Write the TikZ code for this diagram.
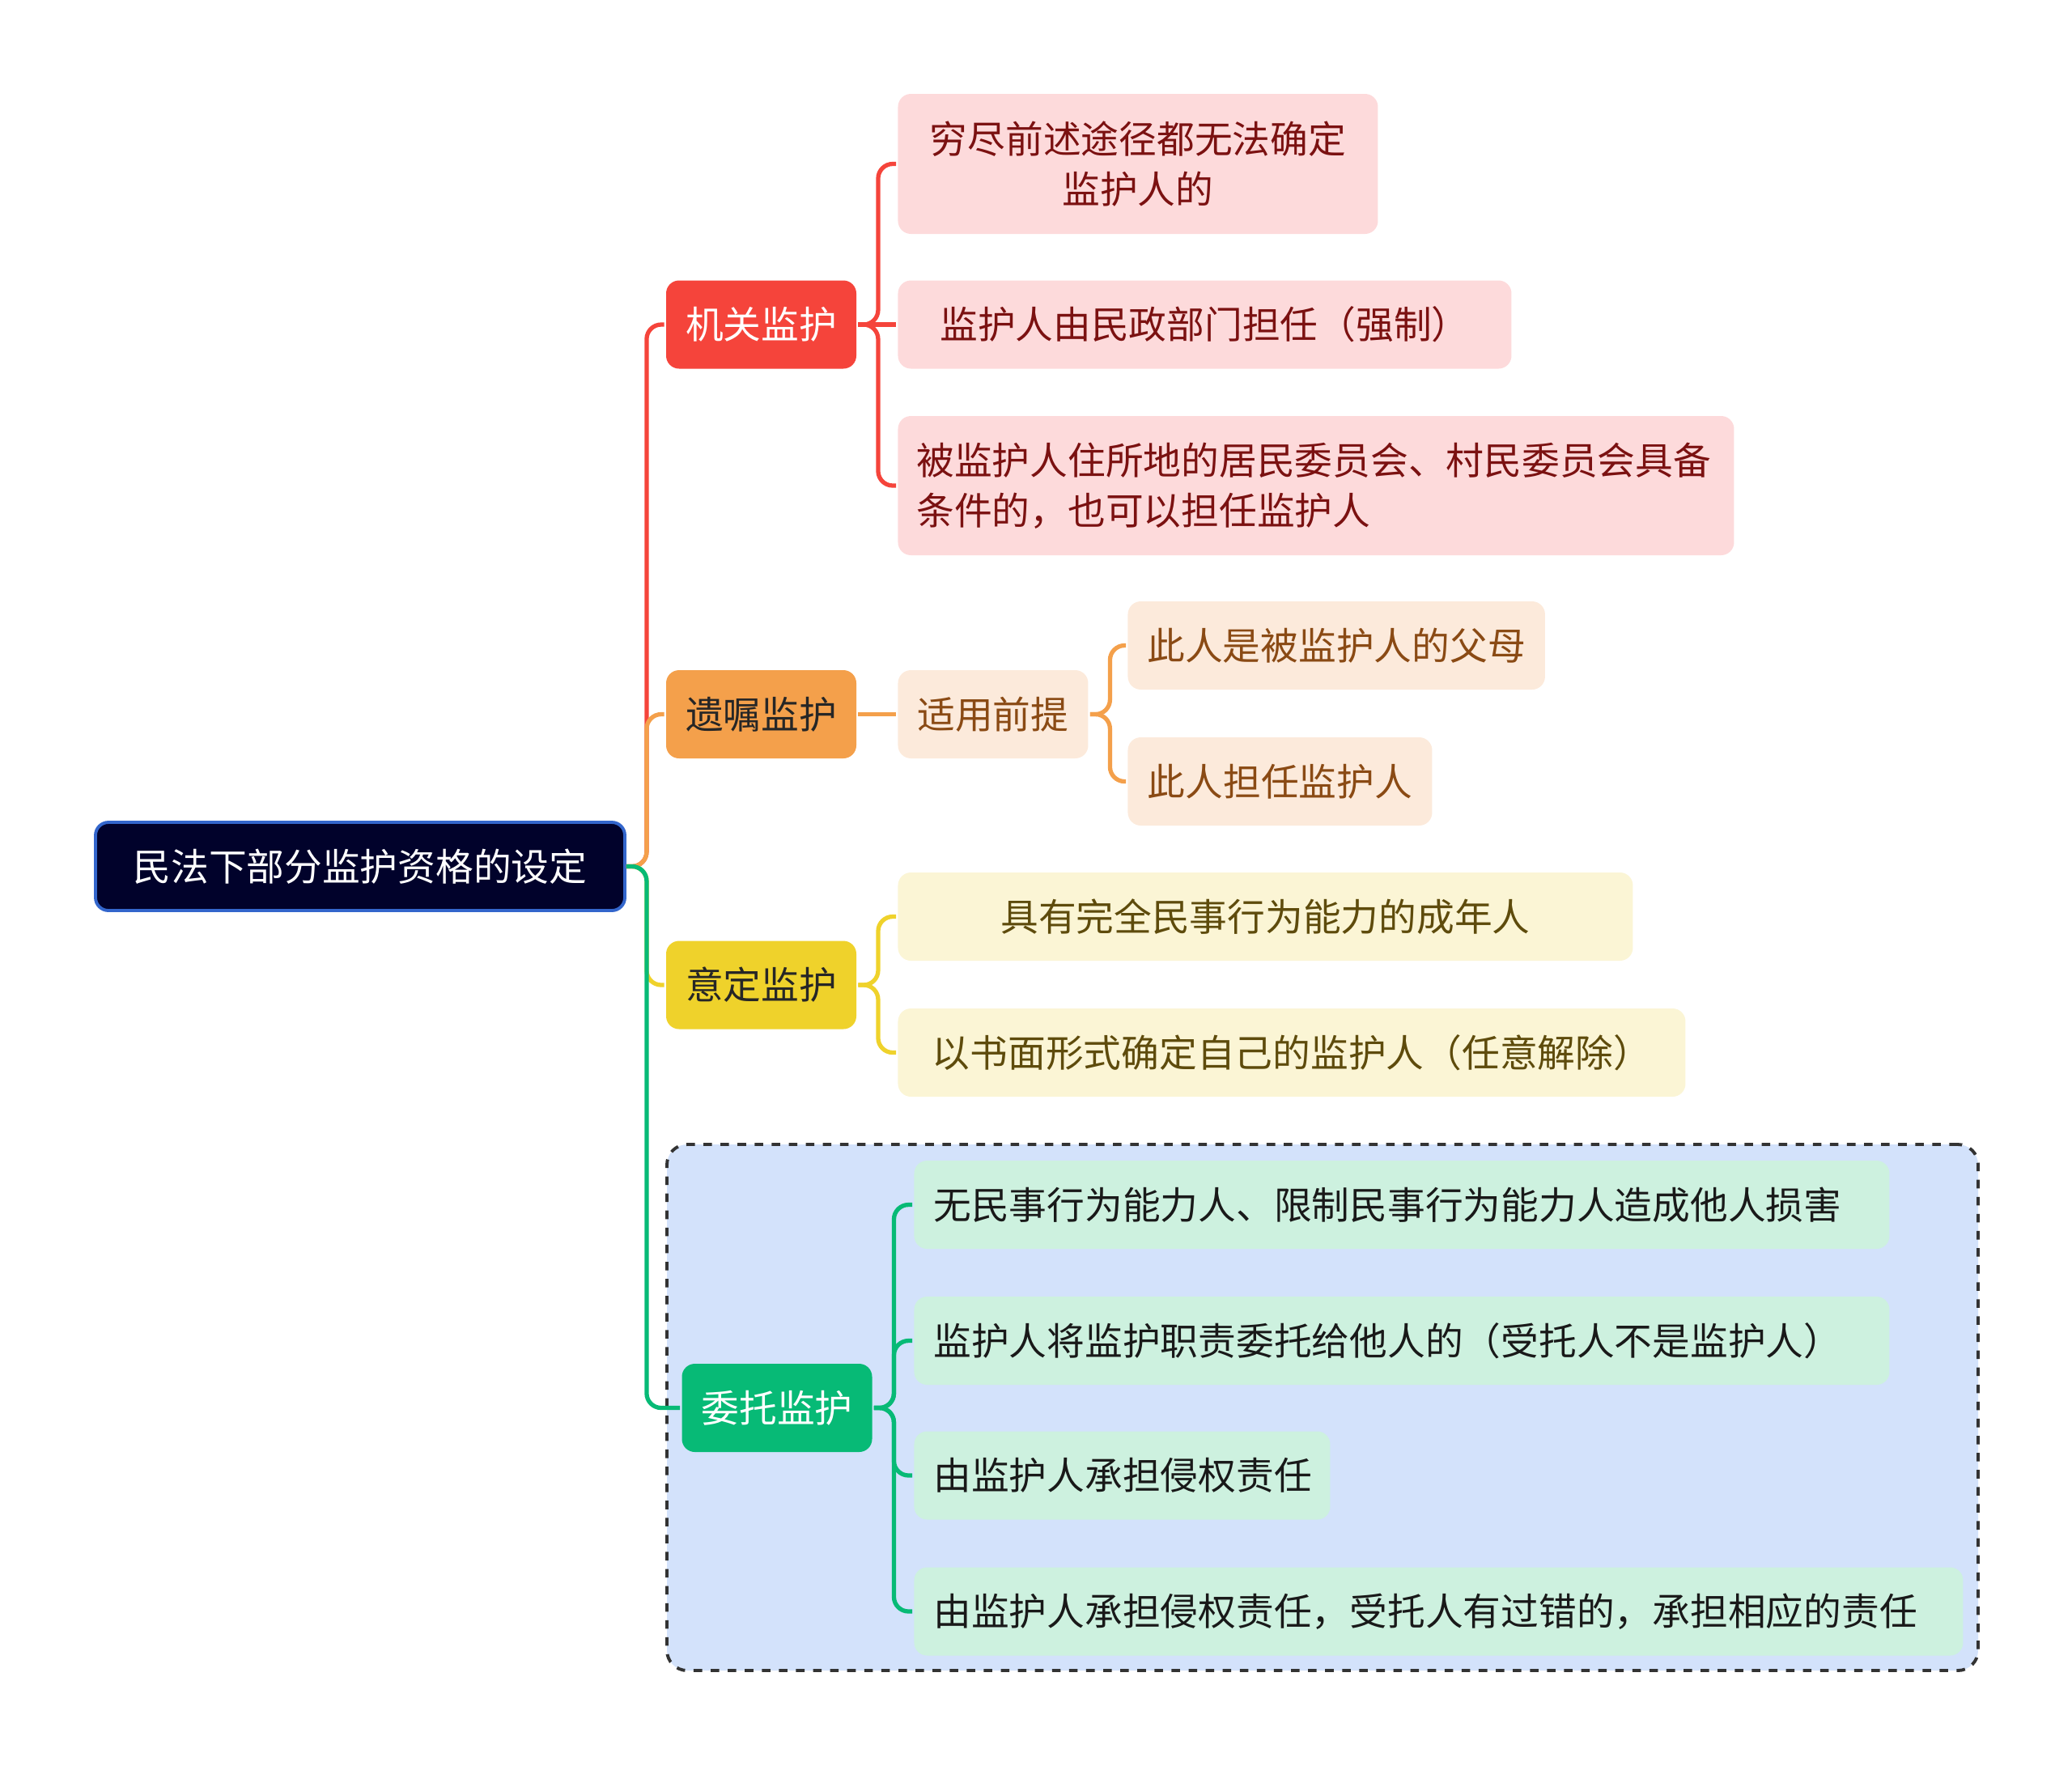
\documentclass[tikz,border=0pt]{standalone}
\usepackage{fontspec}
\setmainfont{Noto Sans CJK SC}
\definecolor{navy}{HTML}{01022B}
\definecolor{navyrim}{HTML}{3366CC}
\definecolor{rmain}{HTML}{F5443B}
\definecolor{rleaf}{HTML}{FDDADB}
\definecolor{rtext}{HTML}{7B1111}
\definecolor{omain}{HTML}{F4A04B}
\definecolor{oleaf}{HTML}{FCEADB}
\definecolor{otext}{HTML}{8A4A14}
\definecolor{ymain}{HTML}{EFD22B}
\definecolor{yleaf}{HTML}{FBF5D5}
\definecolor{ytext}{HTML}{5E4B0C}
\definecolor{gmain}{HTML}{07BA76}
\definecolor{gleaf}{HTML}{CDF1DF}
\definecolor{gbox}{HTML}{D3E2FB}
\usetikzlibrary{positioning}
\begin{document}
\begin{tikzpicture}[font=\fontsize{13.3}{17.6}\selectfont,line width=1.4pt,
 base/.style={rounded corners=0.16cm,minimum height=1.09cm,inner xsep=0.24cm,inner ysep=0pt,align=center},
 topic/.style={base,minimum width=2.35cm},
 leaf/.style={base,anchor=west},
 gitem/.style={base,anchor=west,align=left,fill=gleaf,text=black!90},
 link/.style={rounded corners=0.18cm,line width=1.5pt}]
\useasboundingbox (0,0) rectangle (25.6,-21.81);
\node[draw=black!80,dashed,fill=gbox,line width=1.1pt,rounded corners=0.25cm,minimum width=16.2cm,minimum height=6.5cm] (grp) at (16.34,-17.39) {};
\node[base,fill=navy,draw=navyrim,line width=1.1pt,text=white,minimum width=6.54cm] (root) at (4.45,-10.705) {民法下部分监护资格的设定};
\node[topic,fill=rmain,text=white] (jg) at (9.405,-4.01) {机关监护};
\node[topic,fill=omain,text=black!85] (yz) at (9.405,-8.825) {遗嘱监护};
\node[topic,fill=ymain,text=black!85] (yd) at (9.405,-12.17) {意定监护};
\node[topic,fill=gmain,text=white] (wt) at (9.60,-17.395) {委托监护};
\node[leaf,fill=rleaf,text=rtext,minimum width=5.93cm,minimum height=1.73cm] (r1) at (11.07,-2.025) {穷尽前述途径都无法确定\\监护人的};
\node[leaf,fill=rleaf,text=rtext,minimum width=7.58cm] (r2) at (11.07,-4.01) {监护人由民政部门担任（强制）};
\node[leaf,fill=rleaf,text=rtext,text width=9.87cm,inner xsep=0.23cm,align=left,minimum height=1.72cm] (r3) at (11.07,-6.0) {被监护人住所地的居民委员会、村民委员会具备\\条件的，也可以担任监护人};
\node[leaf,fill=oleaf,text=otext,minimum width=2.35cm] (pre) at (11.07,-8.825) {适用前提};
\node[leaf,fill=oleaf,text=otext,minimum width=5.14cm] (o1) at (13.91,-7.975) {此人是被监护人的父母};
\node[leaf,fill=oleaf,text=otext,minimum width=3.76cm] (o2) at (13.91,-9.655) {此人担任监护人};
\node[leaf,fill=yleaf,text=ytext,minimum width=9.08cm] (y1) at (11.07,-11.325) {具有完全民事行为能力的成年人};
\node[leaf,fill=yleaf,text=ytext,minimum width=9.73cm] (y2) at (11.07,-13.005) {以书面形式确定自己的监护人（任意解除）};
\node[gitem,text width=11.57cm] (g1) at (11.27,-14.885) {无民事行为能力人、限制民事行为能力人造成他人损害};
\node[gitem,text width=11.57cm] (g2) at (11.27,-16.565) {监护人将监护职责委托给他人的（受托人不是监护人）};
\node[gitem,text width=4.66cm] (g3) at (11.27,-18.23) {由监护人承担侵权责任};
\node[gitem,text width=12.48cm] (g4) at (11.27,-19.91) {由监护人承担侵权责任，受托人有过错的，承担相应的责任};
\draw[link,rmain] (root.east) -- ++(0.25,0) |- (jg.west);
\draw[link,omain] (root.east) -- ++(0.25,0) |- (yz.west);
\draw[link,ymain] (root.east) -- ++(0.25,0) |- (yd.west);
\draw[link,gmain] (root.east) -- ++(0.25,0) |- (wt.west);
\foreach \n in {r1,r3} \draw[link,rmain] (jg.east) -- ++(0.245,0) |- (\n.west);
\draw[link,rmain] (jg) -- (r2);
\draw[link,omain] (yz) -- (pre);
\foreach \n in {o1,o2} \draw[link,omain] (pre.east) -- ++(0.245,0) |- (\n.west);
\foreach \n in {y1,y2} \draw[link,ymain] (yd.east) -- ++(0.245,0) |- (\n.west);
\foreach \n in {g1,g2,g3,g4} \draw[link,gmain] (wt.east) -- ++(0.245,0) |- (\n.west);
\end{tikzpicture}
\end{document}
